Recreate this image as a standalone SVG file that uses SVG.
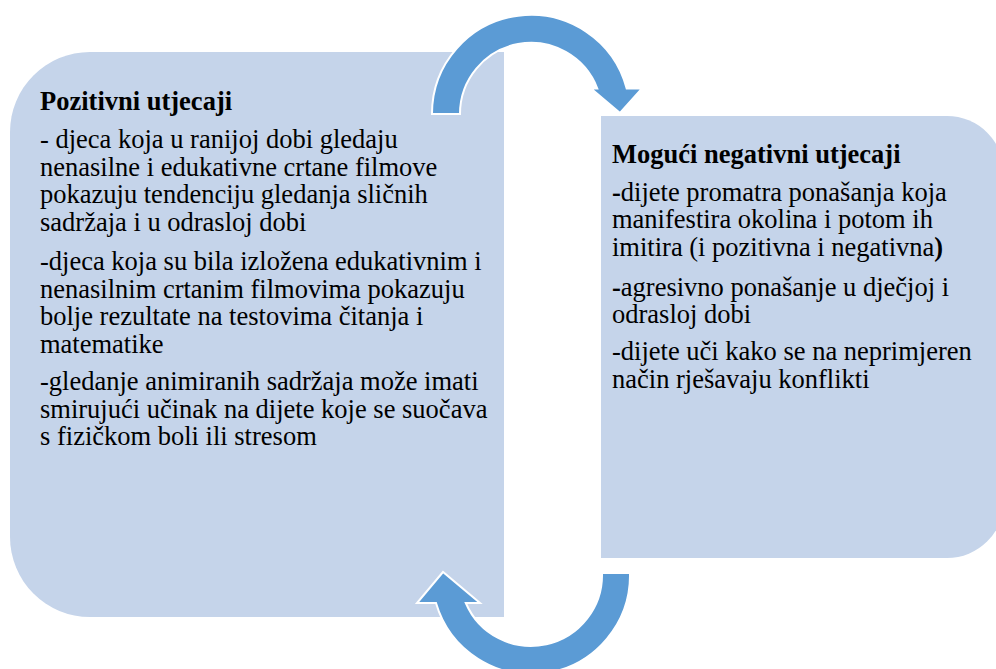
<svg xmlns="http://www.w3.org/2000/svg" width="996" height="669" viewBox="0 0 996 669">
<style>
.box{fill:#C5D4EA}
.arr{fill:#5B9BD5;stroke:#FFFFFF;stroke-width:2;stroke-linejoin:miter}
.b{font-weight:bold}
</style>
<rect width="996" height="669" fill="#FFFFFF"/>
<g id="node-positive">
<path class="box" d="M90,52 H504 V617 H90 A80,80 0 0 1 10,537 V132 A80,80 0 0 1 90,52 Z"/>
<g font-family="'Liberation Serif', 'Times New Roman', Times, serif" font-size="26.5" fill="#000000">
<text class="b" x="40" y="110">Pozitivni utjecaji</text>
<text x="40" y="148">- djeca koja u ranijoj dobi gledaju</text>
<text x="40" y="175.5">nenasilne i edukativne crtane filmove</text>
<text x="40" y="203">pokazuju tendenciju gledanja sličnih</text>
<text x="40" y="230.5">sadržaja i u odrasloj dobi</text>
<text x="40" y="270">-djeca koja su bila izložena edukativnim i</text>
<text x="40" y="297.5">nenasilnim crtanim filmovima pokazuju</text>
<text x="40" y="325">bolje rezultate na testovima čitanja i</text>
<text x="40" y="352.5">matematike</text>
<text x="40" y="390">-gledanje animiranih sadržaja može imati</text>
<text x="40" y="417.5">smirujući učinak na dijete koje se suočava</text>
<text x="40" y="445">s fizičkom boli ili stresom</text>
</g>
</g>
<g id="node-negative">
<path class="box" d="M601,116 H947 A57,57 0 0 1 1004,173 V501 A57,57 0 0 1 947,558 H601 Z"/>
<g font-family="'Liberation Serif', 'Times New Roman', Times, serif" font-size="26.5" fill="#000000">
<text class="b" x="612" y="163">Mogući negativni utjecaji</text>
<text x="612" y="200.5"><tspan class="b">-</tspan>dijete promatra ponašanja koja</text>
<text x="612" y="228">manifestira okolina i potom ih</text>
<text x="612" y="255.5">imitira (i pozitivna i negativna<tspan class="b">)</tspan></text>
<text x="612" y="295.5"><tspan class="b">-</tspan>agresivno ponašanje u dječjoj i</text>
<text x="612" y="323">odrasloj dobi</text>
<text x="612" y="360">-dijete uči kako se na neprimjeren</text>
<text x="612" y="387.5">način rješavaju konflikti</text>
</g>
</g>
<g id="connectors">
<path class="arr" d="M432,114 A99,99 0 0 1 626.7,88.5 L642,88.5 L620,113 L591,88.5 L597.3,88.5 A71,71 0 0 0 460,114 Z"/>
<path class="arr" d="M630,573 A99,99 0 0 1 436,603 L417,603 L443,572 L480,603 L465.8,603 A71,71 0 0 0 602,573 Z"/>
</g>
</svg>
